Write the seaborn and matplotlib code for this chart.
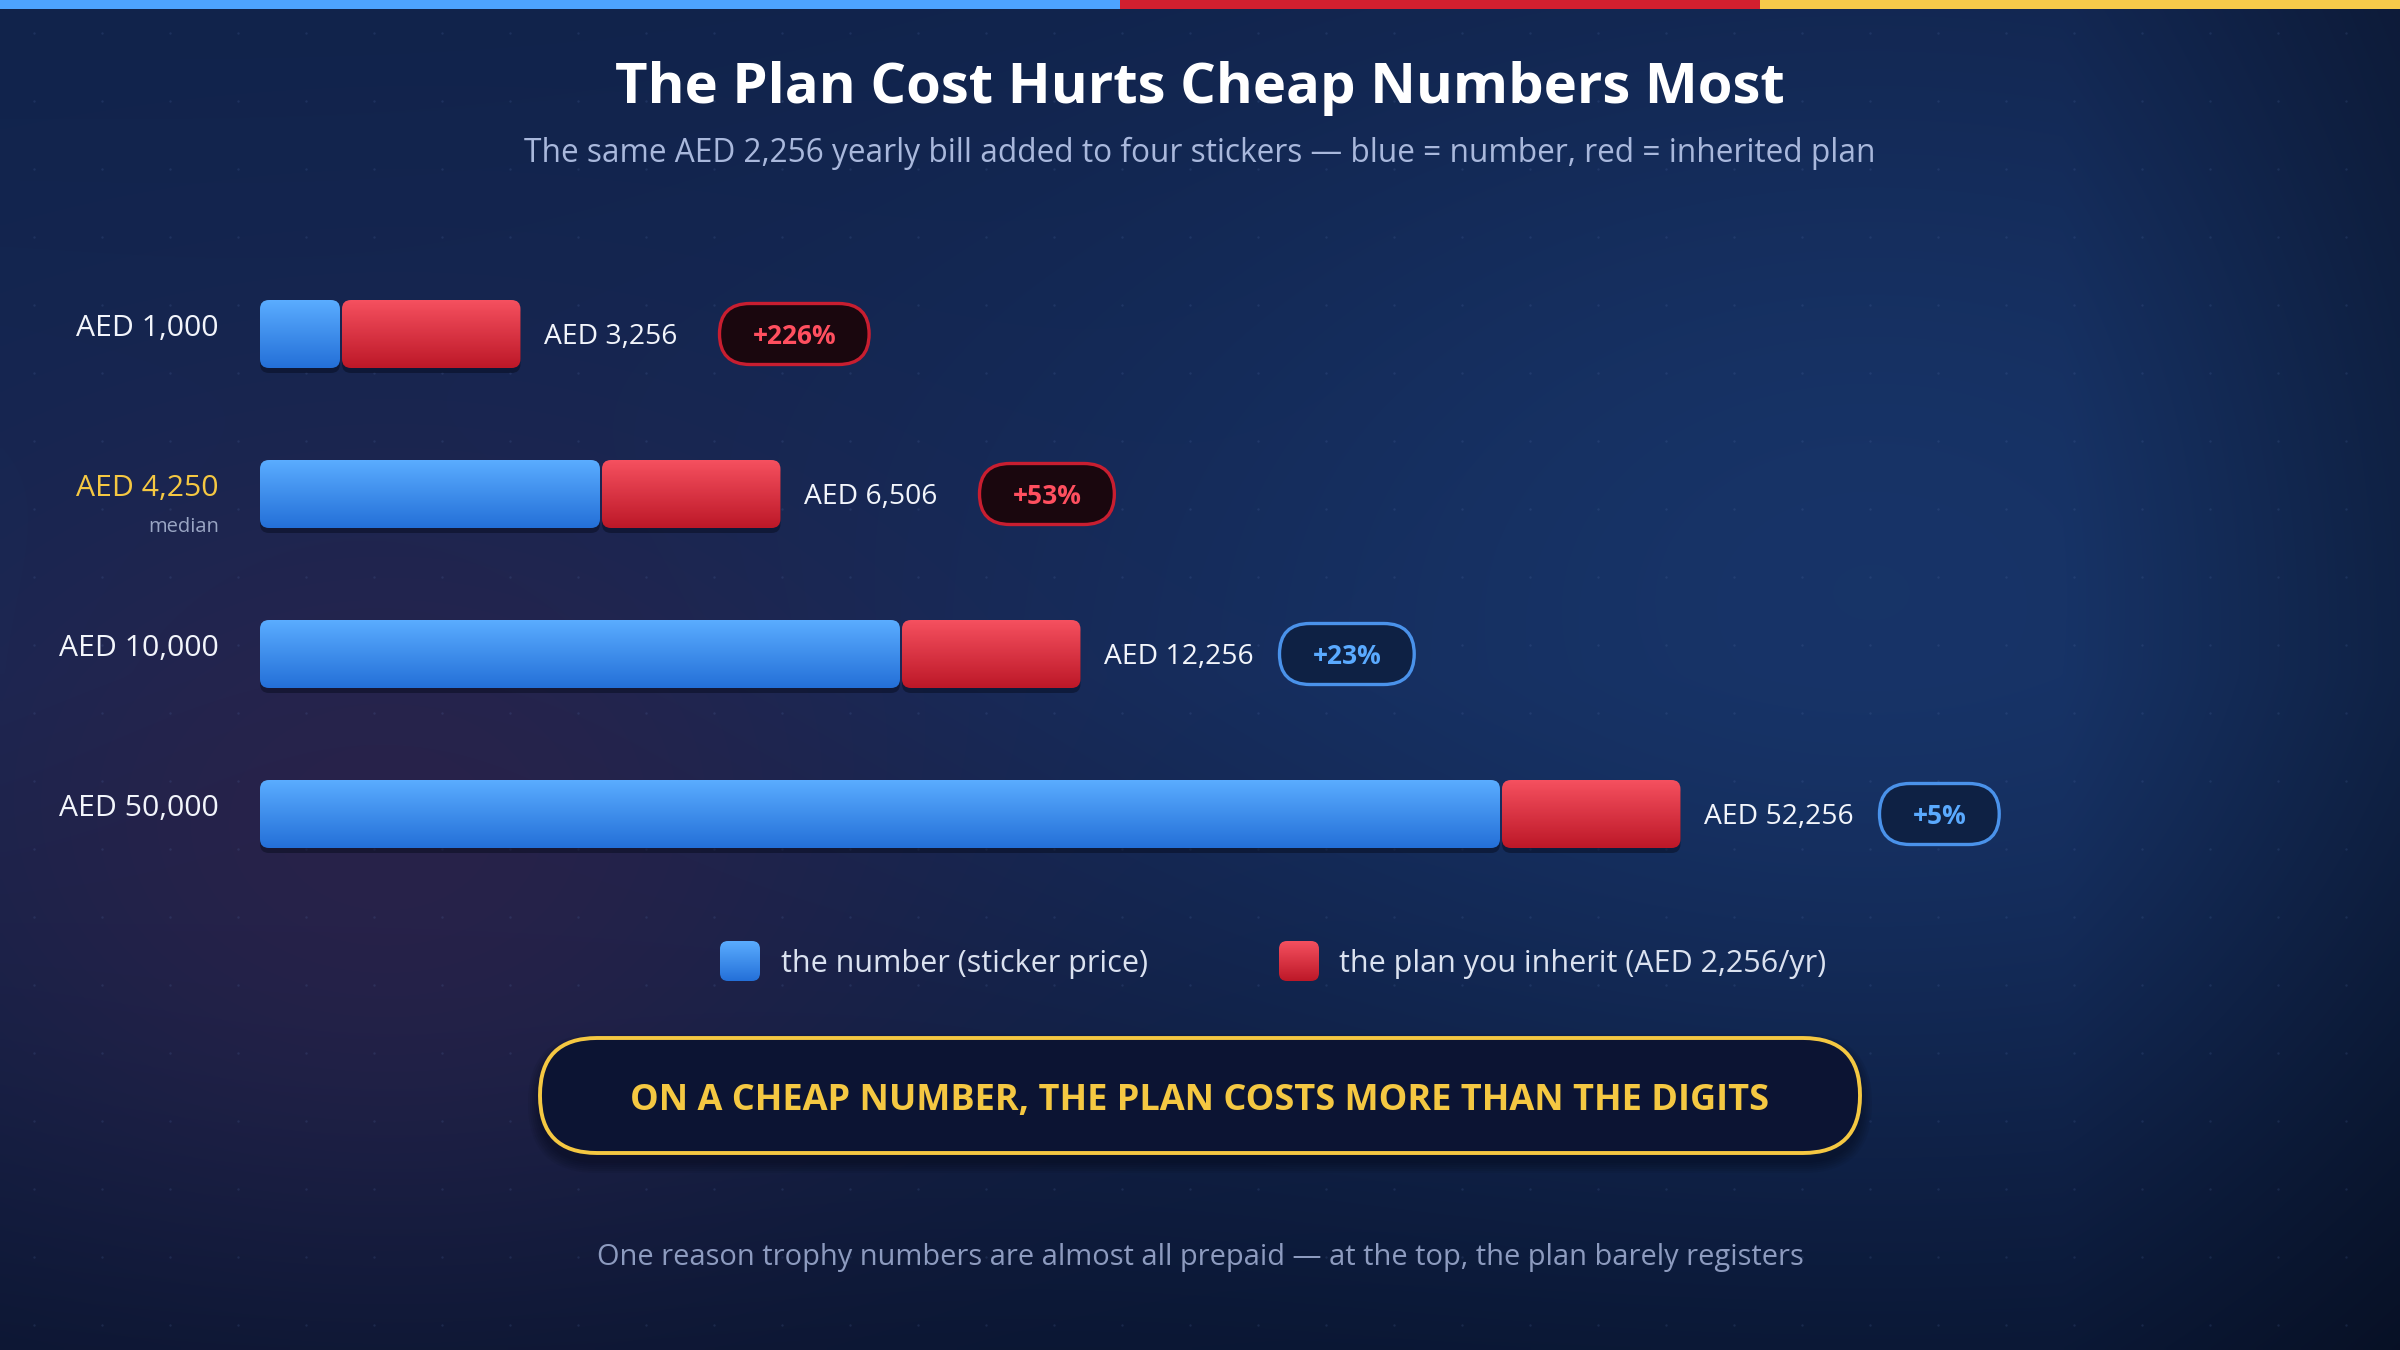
import numpy as np
import matplotlib
matplotlib.use("Agg")
import matplotlib.pyplot as plt
import matplotlib.colors as mcolors
from matplotlib.patches import FancyBboxPatch, Rectangle
import seaborn as sns
import pandas as pd

# ---------------- data ----------------
sticker_labels = ["AED 1,000", "AED 4,250", "AED 10,000", "AED 50,000"]
sticker_price = [1000, 4250, 10000, 50000]
# drawn length of the blue segment (the chart compresses the long bars)
number_bar_len = [1000, 4250, 8000, 15500]
plan_cost = [2256, 2256, 2256, 2256]
total_labels = ["AED 3,256", "AED 6,506", "AED 12,256", "AED 52,256"]
pct_labels = ["+226%", "+53%", "+23%", "+5%"]
pct_high = [True, True, False, False]
median_row = 1

title = "The Plan Cost Hurts Cheap Numbers Most"
subtitle = "The same AED 2,256 yearly bill added to four stickers \u2014 blue = number, red = inherited plan"
legend_labels = ["the number (sticker price)", "the plan you inherit (AED 2,256/yr)"]
banner_text = "ON A CHEAP NUMBER, THE PLAN COSTS MORE THAN THE DIGITS"
footer_text = "One reason trophy numbers are almost all prepaid \u2014 at the top, the plan barely registers"

# ---------------- style ----------------
sns.set_theme(style="white")
FONT = ["Open Sans", "DejaVu Sans"]
plt.rcParams["font.family"] = FONT

W, H = 2400, 1350
PX = 0.08          # pixels per AED unit on the bar axis
ROW = 160.0        # pixels per row
X0 = 260           # pixel x of zero
Y0 = 334           # pixel y of first row centre
BAR_H = 68 / ROW
R_BAR = 9          # corner radius px
ASP = PX / ROW

BLUE_T, BLUE_B = "#5aacff", "#2470d8"
RED_T, RED_B = "#f5505f", "#bd1828"
YELLOW = "#f5c842"
WHITE = "#f2f5fb"

fig = plt.figure(figsize=(24, 13.5), dpi=100)

# ---------------- background ----------------
bg = fig.add_axes([0, 0, 1, 1], zorder=0)
bg.set_axis_off()
ny, nx = 270, 480
yy, xx = np.mgrid[0:1:ny * 1j, 0:1:nx * 1j]


def rgb(h):
    return np.array(mcolors.to_rgb(h))


t = yy[..., None]
top, mid, bot = rgb("#11234b"), rgb("#132957"), rgb("#0a1632")
base = np.where(t < 0.5, top + (mid - top) * (t / 0.5), mid + (bot - mid) * ((t - 0.5) / 0.5))
g1 = np.exp(-(((xx - 0.78) / 0.30) ** 2 + ((yy - 0.42) / 0.38) ** 2))[..., None]
base = base + (rgb("#19386e") - base) * g1 * 0.75
g2 = np.exp(-(((xx - 0.16) / 0.22) ** 2 + ((yy - 0.62) / 0.30) ** 2))[..., None]
base = base + (rgb("#2c2249") - base) * g2 * 0.85
g3 = np.clip((xx - 0.86) / 0.14, 0, 1)[..., None]
base = base * (1 - 0.28 * g3)
bg.imshow(np.clip(base, 0, 1), extent=(0, W, H, 0), aspect="auto", interpolation="bilinear")
dx, dy = np.meshgrid(np.arange(34, W, 68), np.arange(33, H, 68))
bg.scatter(dx.ravel(), dy.ravel(), s=3, color="#5a75b0", alpha=0.18, linewidths=0)
bg.add_patch(Rectangle((0, 0), 1120, 9, color="#4da3ff", lw=0))
bg.add_patch(Rectangle((1120, 0), 640, 9, color="#d21f2f", lw=0))
bg.add_patch(Rectangle((1760, 0), 640, 9, color="#f7ca4a", lw=0))
bg.set_xlim(0, W)
bg.set_ylim(H, 0)

# ---------------- titles ----------------
fig.text(0.5, 1 - 88 / H, title, ha="center", va="center", fontsize=40.5,
         fontweight="bold", color="white")
fig.text(0.5, 1 - 153 / H, subtitle, ha="center", va="center", fontsize=22.8,
         color="#a9b8dc")

# ---------------- bars ----------------
ax = fig.add_axes([0, 0, 1, 1], zorder=2)
ax.patch.set_alpha(0)

df = pd.DataFrame({
    "row": range(len(sticker_price)),
    "number": number_bar_len,
    "total": [n + p for n, p in zip(number_bar_len, plan_cost)],
})

sns.barplot(data=df, x="total", y="row", orient="h", native_scale=True,
            width=BAR_H, color=RED_B, errorbar=None, ax=ax)
red_geo = sorted([(p.get_y() + p.get_height() / 2, p.get_x(), p.get_width(), p.get_height())
                  for p in ax.patches])
for p in list(ax.patches):
    p.remove()
sns.barplot(data=df, x="number", y="row", orient="h", native_scale=True,
            width=BAR_H, color=BLUE_B, errorbar=None, ax=ax)
blue_geo = sorted([(p.get_y() + p.get_height() / 2, p.get_x(), p.get_width(), p.get_height())
                   for p in ax.patches])
for p in list(ax.patches):
    p.remove()

ax.set_axis_off()
XL = (-X0 / PX, (W - X0) / PX)
YL = ((H - Y0) / ROW, -Y0 / ROW)


def gradient(c_top, c_bot, n=64):
    a, b = rgb(c_top), rgb(c_bot)
    tt = np.linspace(0, 1, n)[:, None, None]
    return np.repeat(a + (b - a) * tt, 2, axis=1)


def grad_box(axis, x0, w, yc, h, c_top, c_bot, rad_x, asp, z, shadow=True, sh_off=0.0):
    if shadow:
        sh = FancyBboxPatch((x0, yc - h / 2 + sh_off), w, h,
                            boxstyle=f"round,pad=0,rounding_size={rad_x}",
                            mutation_aspect=asp, fc="#050a1a", ec="none",
                            alpha=0.45, zorder=z - 1)
        axis.add_patch(sh)
    pat = FancyBboxPatch((x0, yc - h / 2), w, h,
                         boxstyle=f"round,pad=0,rounding_size={rad_x}",
                         mutation_aspect=asp, fc="none", ec="none", zorder=z)
    axis.add_patch(pat)
    im = axis.imshow(gradient(c_top, c_bot), extent=(x0, x0 + w, yc + h / 2, yc - h / 2),
                     aspect="auto", interpolation="bilinear", zorder=z)
    im.set_clip_path(pat)
    return pat


GAP = 2 / PX
for (yc, bx, bw, bh), (_, rx, rw, rh) in zip(blue_geo, red_geo):
    grad_box(ax, bx, bw, yc, bh, BLUE_T, BLUE_B, R_BAR / PX, ASP, 4, sh_off=5 / ROW)
    grad_box(ax, bx + bw + GAP, rx + rw - (bx + bw) - GAP, yc, rh, RED_T, RED_B,
             R_BAR / PX, ASP, 4, sh_off=5 / ROW)

renderer = fig.canvas.get_renderer()
ax.set_xlim(*XL)
ax.set_ylim(*YL)

for i, (yc, bx, bw, bh) in enumerate(blue_geo):
    end = red_geo[i][1] + red_geo[i][2]
    # left label
    col = YELLOW if i == median_row else WHITE
    ax.text(-41 / PX, yc - 5 / ROW, sticker_labels[i], ha="right", va="center",
            fontsize=21.7, color=col, zorder=6)
    if i == median_row:
        ax.text(-41 / PX, yc + 33 / ROW, "median", ha="right", va="center",
                fontsize=14.5, color="#9aa6c4", zorder=6)
    # total label
    ax.text(end + 24 / PX, yc + 3 / ROW, total_labels[i], ha="left", va="center",
            fontsize=20.3, color=WHITE, zorder=6)
    # pill
    hi = pct_high[i]
    tcol = "#ff4f5f" if hi else "#5aaaff"
    fcol = "#1a070e" if hi else "#0e2144"
    ecol = "#c81e30" if hi else "#4a92ea"
    left = end + 199 / PX
    txt = ax.text(0, 0, pct_labels[i], ha="center", va="center", fontsize=19,
                  fontweight="bold", color=tcol, zorder=8)
    tw = txt.get_window_extent(renderer=renderer).width
    pw = tw + 66
    ph = 61
    txt.set_position((left + pw / 2 / PX, yc + 3 / ROW))
    pill = FancyBboxPatch((left, yc - ph / 2 / ROW), pw / PX, ph / ROW,
                          boxstyle=f"round,pad=0,rounding_size={ph / 2 / PX}",
                          mutation_aspect=ASP, fc=fcol, ec=ecol, lw=2.4, zorder=7)
    ax.add_patch(pill)

ax.set_xlim(*XL)
ax.set_ylim(*YL)

# ---------------- overlay (legend, banner, footer) ----------------
ov = fig.add_axes([0, 0, 1, 1], zorder=3)
ov.set_axis_off()
ov.patch.set_alpha(0)

sw = [(720, BLUE_T, BLUE_B), (1279, RED_T, RED_B)]
txt_x = [781, 1339]
for (sx, ct, cb), lab, tx in zip(sw, legend_labels, txt_x):
    grad_box(ov, sx, 40, 961, 40, ct, cb, 8, 1.0, 5, shadow=False)
    ov.text(tx, 964, lab, ha="left", va="center", fontsize=22, color="#dbe2f0", zorder=6)

# banner with soft shadow
for k in range(6):
    grow = 4 + k * 4
    ov.add_patch(FancyBboxPatch((540 - grow / 2, 1038 + 8 - grow / 2), 1320 + grow, 115 + grow,
                                boxstyle=f"round,pad=0,rounding_size={57 + grow / 2}",
                                fc="#02050f", ec="none", alpha=0.07, zorder=4))
ov.add_patch(FancyBboxPatch((540, 1038), 1320, 115,
                            boxstyle="round,pad=0,rounding_size=57",
                            fc="#0c1433", ec=YELLOW, lw=2.8, zorder=5))
ov.text(1200, 1101, banner_text, ha="center", va="center", fontsize=26,
        fontweight="bold", color=YELLOW, zorder=6)

ov.text(1200, 1258, footer_text, ha="center", va="center", fontsize=20.9,
        color="#8d9bbf", zorder=6)

ov.set_xlim(0, W)
ov.set_ylim(H, 0)

fig.savefig("out.png", dpi=100)
